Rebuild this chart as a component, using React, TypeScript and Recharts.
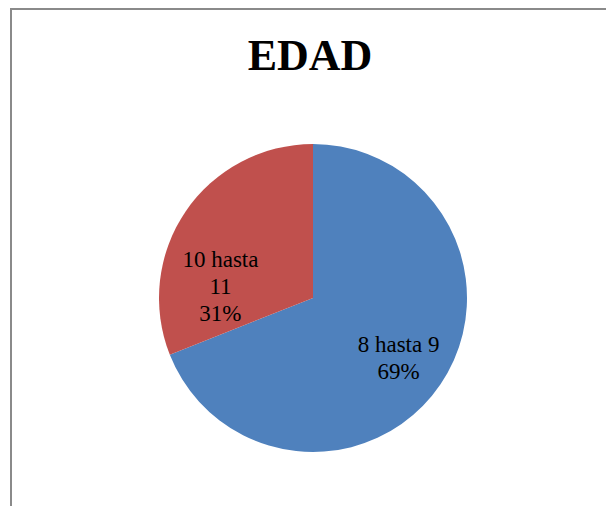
import React from 'react';
import { PieChart, Pie, Cell } from 'recharts';

const categories = ['8 hasta 9', '10 hasta 11'];
const values = [69, 31];
const colors = ['#4F81BD', '#C0504D'];

const data = categories.map((name, i) => ({ name, value: values[i] }));

// label placement tweaks (angle shift in degrees, radius fraction)
const labelTweaks = [
  { shift: -0.4, r: 0.675 },
  { shift: 26.8, r: 0.606 },
];

const RAD = Math.PI / 180;
const FONT = '"Liberation Serif", "Times New Roman", serif';

const wrapName = (name: string) => {
  if (name.length <= 9) return [name];
  const i = name.lastIndexOf(' ');
  return [name.slice(0, i), name.slice(i + 1)];
};

const renderLabel = (props: any) => {
  const { cx, cy, outerRadius, midAngle, percent, index, name } = props;
  const t = labelTweaks[index];
  const a = (midAngle + t.shift) * RAD;
  const x = cx + outerRadius * t.r * Math.cos(a);
  const y = cy - outerRadius * t.r * Math.sin(a);
  const lines = [...wrapName(name), `${Math.round(percent * 100)}%`];
  const lh = 27;
  const first = y - ((lines.length - 1) * lh) / 2 + 8;
  return (
    <text
      x={x}
      textAnchor="middle"
      style={{ fontFamily: FONT, fontSize: 23 }}
      fill="#000"
    >
      {lines.map((l, k) => (
        <tspan key={k} x={x} y={first + k * lh}>
          {l}
        </tspan>
      ))}
    </text>
  );
};

const App: React.FC = () => {
  return (
    <div style={{ position: 'absolute', left: 0, top: 0, width: 606, height: 506, background: '#fff', overflow: 'hidden' }}>
      <div style={{ position: 'absolute', left: 0, top: 0 }}>
        <PieChart width={606} height={506} margin={{ top: 0, right: 0, bottom: 0, left: 0 }}>
          <Pie
            data={data}
            dataKey="value"
            nameKey="name"
            cx={313}
            cy={298}
            outerRadius={154}
            startAngle={90}
            endAngle={-270}
            stroke="none"
            label={renderLabel}
            labelLine={false}
            isAnimationActive={false}
          >
            {data.map((d, i) => (
              <Cell key={d.name} fill={colors[i]} />
            ))}
          </Pie>
        </PieChart>
      </div>
      <svg width={606} height={506} style={{ position: 'absolute', left: 0, top: 0, pointerEvents: 'none' }}>
        <path d="M11 506 V9 H606" fill="none" stroke="#8a8a8a" strokeWidth={2} />
        <text
          x={310}
          y={70}
          textAnchor="middle"
          style={{ fontFamily: FONT, fontWeight: 'bold', fontSize: 44 }}
          fill="#000"
        >
          EDAD
        </text>
      </svg>
    </div>
  );
};

export default App;
